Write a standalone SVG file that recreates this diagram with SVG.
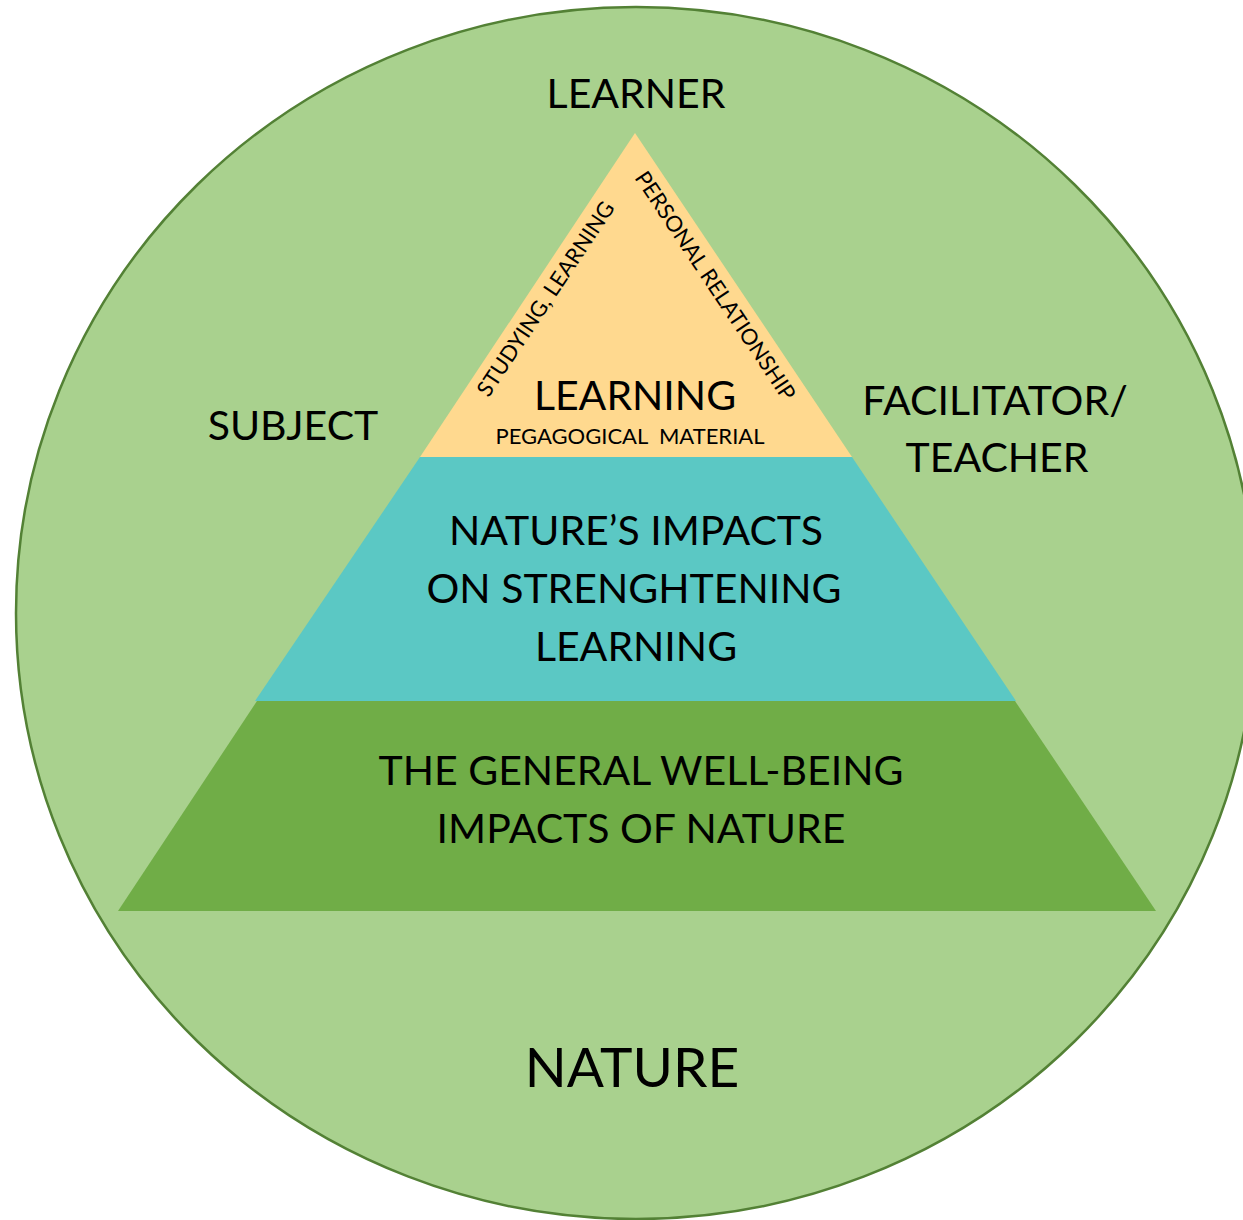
<svg xmlns="http://www.w3.org/2000/svg" width="1243" height="1220" viewBox="0 0 1243 1220">
<style>
text{font-family:Lato,"Open Sans","Liberation Sans",sans-serif;fill:#000;text-anchor:middle}
.big{font-size:41px}
.sm{font-size:22px}
</style>
<rect width="1243" height="1220" fill="#fff"/>
<g id="nature">
<ellipse cx="636" cy="613" rx="620" ry="606" fill="#A9D18E" stroke="#538135" stroke-width="2.5"/>
<text x="632" y="1087" style="font-size:55px">NATURE</text>
</g>
<g id="wellbeing">
<polygon points="257,701 1015,701 1156,911 118,911" fill="#70AD47"/>
<text class="big" x="641" y="785">THE GENERAL WELL-BEING</text>
<text class="big" x="641" y="843">IMPACTS OF NATURE</text>
</g>
<g id="impacts">
<polygon points="420,457 852,457 1016,701 255,701" fill="#5BC8C4"/>
<text class="big" x="636" y="545">NATURE’S IMPACTS</text>
<text class="big" x="634" y="603">ON STRENGHTENING</text>
<text class="big" x="636" y="661">LEARNING</text>
</g>
<g id="learning">
<polygon points="635,133 852,457 420,457" fill="#FFD98F"/>
<text class="big" x="635" y="410">LEARNING</text>
<text class="sm" x="630" y="444">PEGAGOGICAL&#160; MATERIAL</text>
<text class="sm" transform="translate(552,303) rotate(-56.3)">STUDYING, LEARNING</text>
<text class="sm" transform="translate(709,290) rotate(56.3)">PERSONAL RELATIONSHIP</text>
</g>
<g id="learner"><text class="big" x="636" y="108">LEARNER</text></g>
<g id="subject"><text class="big" x="293" y="440">SUBJECT</text></g>
<g id="teacher">
<text class="big" x="995" y="415">FACILITATOR/</text>
<text class="big" x="997" y="472">TEACHER</text>
</g>
<g id="connectors"></g>
</svg>
